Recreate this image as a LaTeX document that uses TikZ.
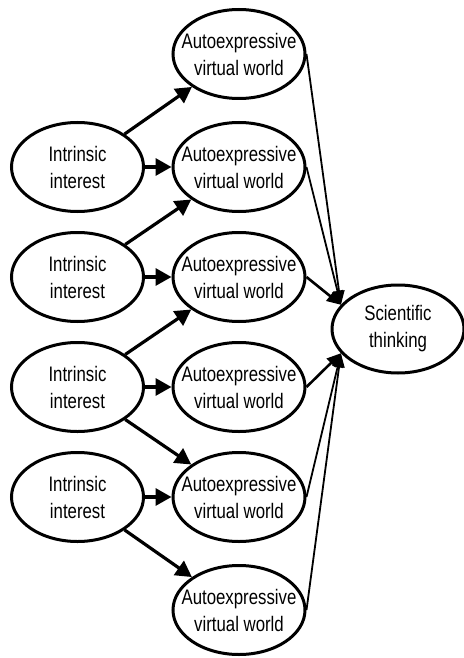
\documentclass[tikz,border=0pt]{standalone}
\usepackage{fontspec}
\setmainfont[FakeStretch=0.8]{Liberation Sans}
\usetikzlibrary{shapes.geometric,arrows.meta}
\begin{document}
\begin{tikzpicture}[x=1pt,y=-1pt,
  oval/.style={ellipse,draw,line width=3pt,minimum width=132pt,minimum height=89pt,
    inner xsep=-16pt,inner ysep=0pt,align=center,font=\fontsize{21}{27}\selectfont},
  thickarrow/.style={line width=3.2pt,-{Triangle[length=16pt,width=17pt]}},
  thinarrow/.style={line width=1.8pt,-{Triangle[length=14pt,width=11pt]}},
  midarrow/.style={line width=2.6pt,-{Triangle[length=14pt,width=12pt]}}]
\useasboundingbox (0,0) rectangle (463,658);
% Autoexpressive virtual worlds
\node[oval] (a1) at (239,54) {Autoexpressive\\virtual world};
\node[oval] (a2) at (239,167) {Autoexpressive\\virtual world};
\node[oval] (a3) at (239,277) {Autoexpressive\\virtual world};
\node[oval] (a4) at (239,387) {Autoexpressive\\virtual world};
\node[oval] (a5) at (239,497) {Autoexpressive\\virtual world};
\node[oval] (a6) at (239,610) {Autoexpressive\\virtual world};
% Intrinsic interest
\node[oval] (i1) at (77.5,167) {Intrinsic\\interest};
\node[oval] (i2) at (77.5,277) {Intrinsic\\interest};
\node[oval] (i3) at (77.5,387) {Intrinsic\\interest};
\node[oval] (i4) at (77.5,497) {Intrinsic\\interest};
% Scientific thinking
\node[oval,minimum height=88pt] (s) at (398,329) {Scientific\\thinking};
% arrows intrinsic -> worlds
\draw[thickarrow] (i1) -- (a1);
\draw[thickarrow] (i1) -- (a2);
\draw[thickarrow] (i2) -- (a2);
\draw[thickarrow] (i2) -- (a3);
\draw[thickarrow] (i3) -- (a3);
\draw[thickarrow] (i3) -- (a4);
\draw[thickarrow] (i3) -- (a5);
\draw[thickarrow] (i4) -- (a5);
\draw[thickarrow] (i4) -- (a6);
% arrows worlds -> scientific thinking
\draw[thinarrow] (a1.east) -- (s.157);
\draw[thinarrow] (a2.east) -- (s.157);
\draw[midarrow] (a3.east) -- (s.157);
\draw[midarrow] (a4.east) -- (s.203);
\draw[thinarrow] (a5.east) -- (s.203);
\draw[thinarrow] (a6.east) -- (s.203);
\end{tikzpicture}
\end{document}
